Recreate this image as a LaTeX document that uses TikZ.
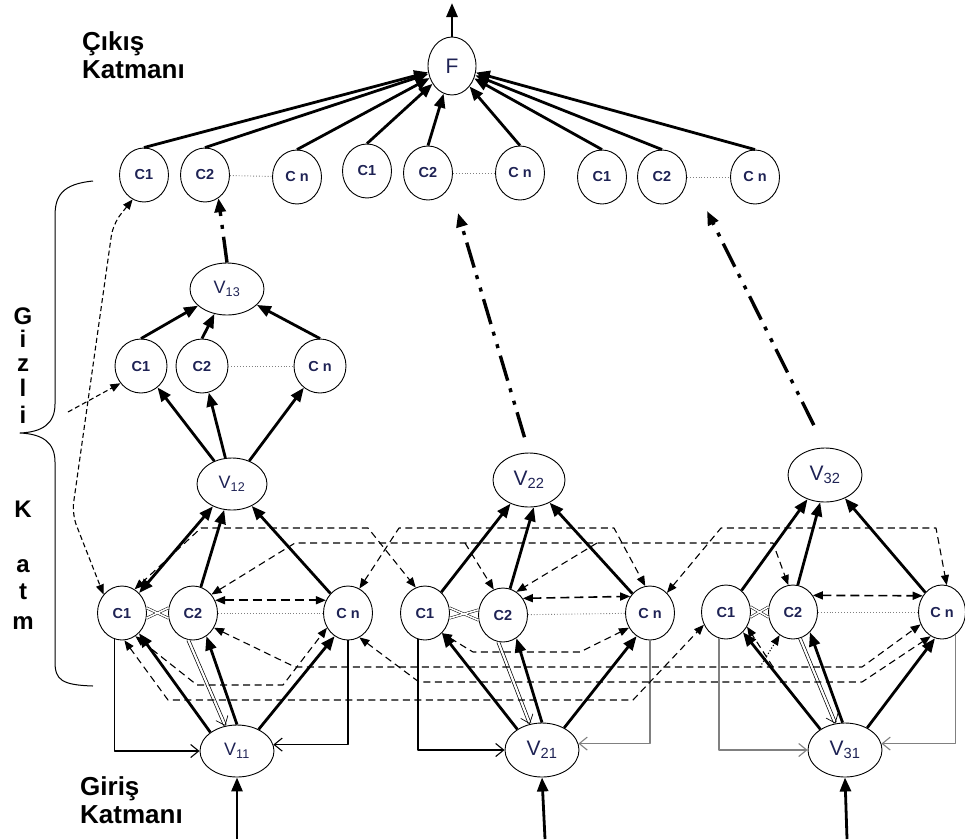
\documentclass[tikz,border=0pt]{standalone}
\usepackage{fontspec}
\setmainfont{Liberation Sans}
\usetikzlibrary{arrows.meta,shapes.geometric,positioning}

\definecolor{lbl}{RGB}{30,34,84}
\newcommand{\vname}[1]{V\textsubscript{#1}}

\begin{document}
\begin{tikzpicture}[
    x = 1pt, y = -1pt, % one unit per pixel, y grows downwards
    line join = round,
    strong/.style = {line width=2.8pt, -bigtip}, % main weights
    strongboth/.style = {line width=2.8pt, bigtip-bigtip},
    skiplink/.style = {line width=3.4pt,
        dash pattern=on 26pt off 8pt on 4pt off 9pt on 4pt off 8pt, -bigtip},
    rec/.style = {line width=1.1pt, dash pattern=on 7pt off 4.5pt,
        dashtip-dashtip}, % recurrent links between blocks
    recin/.style = {line width=1.1pt, dash pattern=on 7pt off 4.5pt, -dashtip},
    feed/.style = {line width=1.1pt, -opentip}, % back to the input unit
    twin/.style = {double, double distance=2.2pt, line width=0.7pt, -opentip},
    chain/.style = {dotted, line width=0.9pt, gray},
    cross/.style = {double, double distance=1.6pt, line width=0.5pt},
    layer/.style = {anchor=base west, inner sep=0pt,
        font=\bfseries\fontsize{26}{26}\selectfont},
    letter/.style = {anchor=base, inner sep=0pt,
        font=\bfseries\fontsize{24}{24}\selectfont}
    ]

    \tikzset{
    bigtip/.tip = {Triangle[length=14pt,width=11pt]},
    dashtip/.tip = {Triangle[length=10pt,width=8pt]},
    opentip/.tip = {Straight Barb[length=8pt,width=13pt]},
    unit/.style = {draw, ellipse, line width=0.9pt, inner sep=0pt,
        minimum width=49pt, minimum height=54pt, text=lbl,
        font=\bfseries\fontsize{14.5}{14.5}\selectfont},
    vunit/.style = {unit, minimum width=72pt, minimum height=52pt,
        font=\fontsize{18}{18}\selectfont},
    vbig/.style = {vunit, minimum width=74pt, minimum height=54pt,
        font=\fontsize{21}{21}\selectfont}
    }

    \useasboundingbox (0,0) rectangle (965,839);

    % layer names
    \node[layer] (outlab1) at (82,50) {Çıkış};
    \node[layer] (outlab2) at (82,78) {Katmanı};
    \node[layer] (inlab1) at (80,795) {Giriş};
    \node[layer] (inlab2) at (80,823) {Katmanı};
    \node[letter] (g1) at (23,324) {G};
    \node[letter] (g2) at (23,347) {i};
    \node[letter] (g3) at (23,371) {z};
    \node[letter] (g4) at (23,396) {l};
    \node[letter] (g5) at (23,423) {i};
    \node[letter] (k1) at (23,517) {K};
    \node[letter] (k2) at (23,572) {a};
    \node[letter] (k3) at (23,599) {t};
    \node[letter] (k4) at (23,629) {m};

    % brace over the hidden layers
    \draw[line width=1pt] (93,181) .. controls (62,184) and (55,196) .. (55,216)
        -- (55,404) .. controls (55,424) and (42,432) .. (20,433)
        .. controls (42,434) and (55,442) .. (55,462)
        -- (55,662) .. controls (55,680) and (62,685) .. (93,686);

    % output unit and the top row
    \node[unit, minimum width=48pt, minimum height=58pt,
        font=\fontsize{21}{21}\selectfont] (F) at (452,66) {F};
    \node[unit] (t11) at (144,175) {C1};
    \node[unit] (t12) at (205,175) {C2};
    \node[unit] (t1n) at (297,177) {C n};
    \node[unit] (t21) at (367,171) {C1};
    \node[unit] (t22) at (428,173) {C2};
    \node[unit] (t2n) at (520,173) {C n};
    \node[unit] (t31) at (602,177) {C1};
    \node[unit] (t32) at (662,177) {C2};
    \node[unit] (t3n) at (755,177) {C n};

    % first block
    \node[vunit, minimum width=74pt] (v13) at (227,289) {\vname{13}};
    \node[unit, minimum width=52pt] (h1) at (141,366) {C1};
    \node[unit, minimum width=52pt] (h2) at (202,366) {C2};
    \node[unit, minimum width=52pt] (hn) at (320,366) {C n};
    \node[vunit, minimum width=70pt] (v12) at (232,484) {\vname{12}};
    \node[unit] (a1) at (122,613) {C1};
    \node[unit] (a2) at (193,613) {C2};
    \node[unit] (an) at (348,613) {C n};
    \node[vunit, minimum width=74pt] (v11) at (237,751) {\vname{11}};

    % second block
    \node[vbig, minimum width=72pt] (v22) at (529,480) {\vname{22}};
    \node[unit] (b1) at (425,613) {C1};
    \node[unit] (b2) at (503,615) {C2};
    \node[unit] (bn) at (650,613) {C n};
    \node[vbig] (v21) at (542,750) {\vname{21}};

    % third block
    \node[vbig] (v32) at (825,475) {\vname{32}};
    \node[unit] (c1) at (726,612) {C1};
    \node[unit] (c2) at (793,612) {C2};
    \node[unit, minimum width=47pt] (cn) at (942,612) {C n};
    \node[vbig] (v31) at (845,750) {\vname{31}};

    % free ends
    \coordinate (out) at (452,3);
    \coordinate (in1) at (237,839);
    \coordinate (in2) at (545,839);
    \coordinate (in3) at (847,839);
    \coordinate (aim2) at (458,213);
    \coordinate (aim3) at (707,211);
    \coordinate (side) at (68,412);
    \coordinate (m1) at (465,543);
    \coordinate (m2) at (597,543);
    \coordinate (m3) at (773,667);
    \coordinate (m4) at (760,667);

    % everything meets in F
    \path[strong]
        (t11.north) edge (F)
        (t12.north) edge (F)
        (t1n.north) edge (F)
        (t21.north) edge (F)
        (t22.north) edge (F)
        (t2n.north) edge (F)
        (t31.north) edge (F)
        (t32.north) edge (F)
        (t3n.north) edge (F);
    \draw[strong] (F.north) -- (out);

    \draw[chain] (t12) -- (t1n);
    \draw[chain] (t22) -- (t2n);
    \draw[chain] (t32) -- (t3n);

    % skip links up to the top row
    \draw[skiplink] (v13.north) -- (t12.300);
    \draw[skiplink, shorten <=16pt] (v22.north) -- (aim2);
    \draw[skiplink, shorten <=25pt] (v32.north) -- (aim3);

    % hidden part of the first block
    \path[strong]
        (h1.north) edge (v13)
        (h2.north) edge (v13)
        (hn.north) edge (v13)
        (v12) edge (h1)
        (v12) edge (h2)
        (v12) edge (hn);
    \draw[chain] (h2) -- (hn);
    \draw[rec, dash pattern=on 5pt off 3pt, rounded corners=12pt]
        (t11.245) -- (113,224) -- (72,514) -- (a1.135);
    \draw[recin, dash pattern=on 5pt off 3pt] (side) -- (h1.-140);

    % first block, lower part
    \path[strong]
        (a1) edge[strongboth] (v12)
        (a2) edge (v12)
        (an) edge (v12)
        (v11.145) edge (a1.-50)
        (v11.90) edge (a2.-60)
        (v11.45) edge (an.-120);
    \draw[twin] (a2.-100) -- (v11.115);
    \draw[feed] (a1.-105) |- (v11.west);
    \draw[feed] (an.south) |- (v11.10);
    \draw[rec, line width=1.6pt, dash pattern=on 9pt off 5pt] (a2.30) -- (an.150);
    \draw[chain] (a2) -- (an);
    \draw[cross] (a1.12) -- (a2.-168) (a1.-12) -- (a2.168);
    \draw[strong] (in1) -- (v11.south);

    % second block
    \path[strong]
        (b1) edge (v22)
        (b2.75) edge (v22.-80)
        (bn) edge (v22)
        (v21.140) edge (b1.-50)
        (v21.90) edge (b2.-60)
        (v21.45) edge (bn.-120);
    \draw[twin] (b2.-100) -- (v21.115);
    \draw[feed] (b1.-105) |- (v21.west);
    \draw[feed, gray] (bn.south) |- (v21.10);
    \draw[rec, line width=1.6pt, dash pattern=on 9pt off 5pt] (b2.40) -- (bn.140);
    \draw[chain] (b2) -- (bn);
    \draw[cross] (b1.12) -- (b2.-168) (b1.-12) -- (b2.168);
    \draw[strong] (in2) -- (v21.south);

    % third block
    \path[strong]
        (c1) edge (v32)
        (c2.80) edge (v32.-100)
        (cn) edge (v32)
        (v31.140) edge (c1.-50)
        (v31.95) edge (c2.-50)
        (v31.45) edge (cn.-105);
    \draw[twin] (c2.-75) -- (v31.110);
    \draw[feed, gray] (c1.-105) |- (v31.west);
    \draw[feed, gray] (cn.-60) |- (v31.10);
    \draw[rec, line width=1.6pt, dash pattern=on 9pt off 5pt] (c2.40) -- (cn.140);
    \draw[chain] (c2) -- (cn);
    \draw[cross] (c1.12) -- (c2.-168) (c1.-12) -- (c2.168);
    \draw[strong] (in3) -- (v31.south);

    % recurrent links above the unit rows
    \draw[rec] (a1.62) -- (201,528) -- (368,528) -- (b1.110);
    \draw[rec] (an.65) -- (399,528) -- (614,528) -- (bn.100);
    \draw[rec] (bn.50) -- (721,528) -- (936,528) -- (cn.80);
    \draw[rec] (a2.45) -- (295,543) -- (773,543) -- (c2.100);
    \draw[recin] (m1) -- (b2.110);
    \draw[recin] (m2) -- (b2.60);

    % recurrent links below the unit rows
    \draw[rec] (a1.-60) -- (197,685) -- (283,685) -- (an.-145);
    \draw[rec] (a1.-85) -- (168,700) -- (633,700) -- (c1.-150);
    \draw[rec] (a2.-35) -- (295,667) -- (862,667) -- (cn.-150);
    \draw[rec] (an.-65) -- (419,682) -- (862,682) -- (cn.-115);
    \draw[rec] (b1.-50) -- (473,652) -- (580,652) -- (bn.-145);
    \draw[recin] (m3) -- (c1.-35);
    \draw[recin, dotted] (m4) -- (c2.-120);
\end{tikzpicture}
\end{document}
